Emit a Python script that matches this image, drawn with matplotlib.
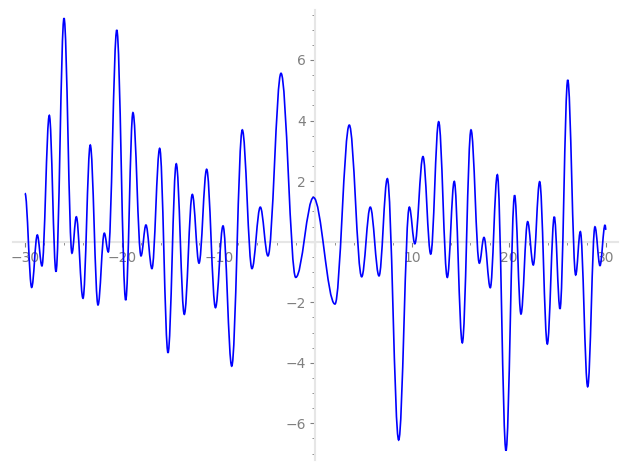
import matplotlib
matplotlib.use("Agg")
import matplotlib.pyplot as plt
from matplotlib.path import Path
from matplotlib.patches import PathPatch
from matplotlib.ticker import MultipleLocator, FuncFormatter

# turning points of the curve (start, extrema, end)
x_pts = [-30.00, -29.31, -28.73, -28.25, -27.49, -26.80, -25.97, -25.15, -24.70, -24.01,
         -23.26, -22.46, -21.81, -21.40, -20.52, -19.60, -18.85, -18.02, -17.51, -16.89,
         -16.09, -15.23, -14.38, -13.55, -12.72, -12.03, -11.24, -10.33, -9.55, -8.65,
         -7.56, -6.56, -5.70, -4.91, -3.56, -2.04, -0.21, 2.01, 3.49, 4.77,
         5.66, 6.56, 7.42, 8.59, 9.69, 10.26, 11.10, 11.90, 12.72, 13.61,
         14.33, 15.16, 16.06, 16.92, 17.40, 18.05, 18.78, 19.67, 20.56, 21.22,
         21.91, 22.49, 23.15, 23.94, 24.66, 25.25, 26.05, 26.87, 27.35, 28.11,
         28.86, 29.38, 29.90, 30.00]
y_pts = [1.60, -1.51, 0.22, -0.80, 4.17, -0.99, 7.38, -0.38, 0.82, -1.87,
         3.19, -2.09, 0.28, -0.34, 6.99, -1.93, 4.26, -0.47, 0.55, -0.89,
         3.08, -3.67, 2.57, -2.40, 1.56, -0.71, 2.39, -2.18, 0.52, -4.11,
         3.69, -0.89, 1.14, -0.47, 5.56, -1.18, 1.46, -2.06, 3.85, -1.16,
         1.14, -1.13, 2.08, -6.55, 1.14, -0.07, 2.81, -0.41, 3.96, -1.18,
         1.99, -3.34, 3.69, -0.71, 0.14, -1.52, 2.21, -6.90, 1.53, -2.39,
         0.66, -0.77, 1.98, -3.38, 0.82, -2.22, 5.34, -1.10, 0.33, -4.79,
         0.49, -0.79, 0.55, 0.39]

x_lim = (-31.27, 31.24)
y_lim = (-7.21, 7.65)
grey = "#808080"


def curve_path(xs, ys, k=0.3642):
    # smooth bezier through the turning points, flat tangent at each one
    verts = [(xs[0], ys[0])]
    codes = [Path.MOVETO]
    for i in range(1, len(xs)):
        dx = xs[i] - xs[i - 1]
        verts += [(xs[i - 1] + k * dx, ys[i - 1]), (xs[i] - k * dx, ys[i]), (xs[i], ys[i])]
        codes += [Path.CURVE4] * 3
    return Path(verts, codes)


def no_zero(v, pos):
    if abs(v) < 1e-9:
        return ""
    return f"{v:.0f}".replace("-", "\u2212")


fig = plt.figure(figsize=(6.27, 4.70), dpi=100)
ax = fig.add_axes([12.7 / 627, 10 / 470, 605.3 / 627, 450 / 470])

ax.add_patch(PathPatch(curve_path(x_pts, y_pts), fill=False, edgecolor="blue",
                       lw=1.2, zorder=3))
ax.set_xlim(*x_lim)
ax.set_ylim(*y_lim)

for side in ("top", "right"):
    ax.spines[side].set_visible(False)
for side in ("left", "bottom"):
    ax.spines[side].set_position(("data", 0))
    ax.spines[side].set_color("#e6e6e6")
    ax.spines[side].set_linewidth(1.5)

ax.xaxis.set_major_locator(MultipleLocator(10))
ax.xaxis.set_minor_locator(MultipleLocator(2))
ax.yaxis.set_major_locator(MultipleLocator(2))
ax.yaxis.set_minor_locator(MultipleLocator(0.5))
ax.xaxis.set_major_formatter(FuncFormatter(no_zero))
ax.yaxis.set_major_formatter(FuncFormatter(no_zero))
ax.tick_params(which="both", direction="out", color=grey, labelcolor=grey, labelsize=10)
ax.tick_params(which="major", length=3.5, width=0.8)
ax.tick_params(which="minor", length=2, width=0.6)

fig.savefig("out.png", dpi=100)
